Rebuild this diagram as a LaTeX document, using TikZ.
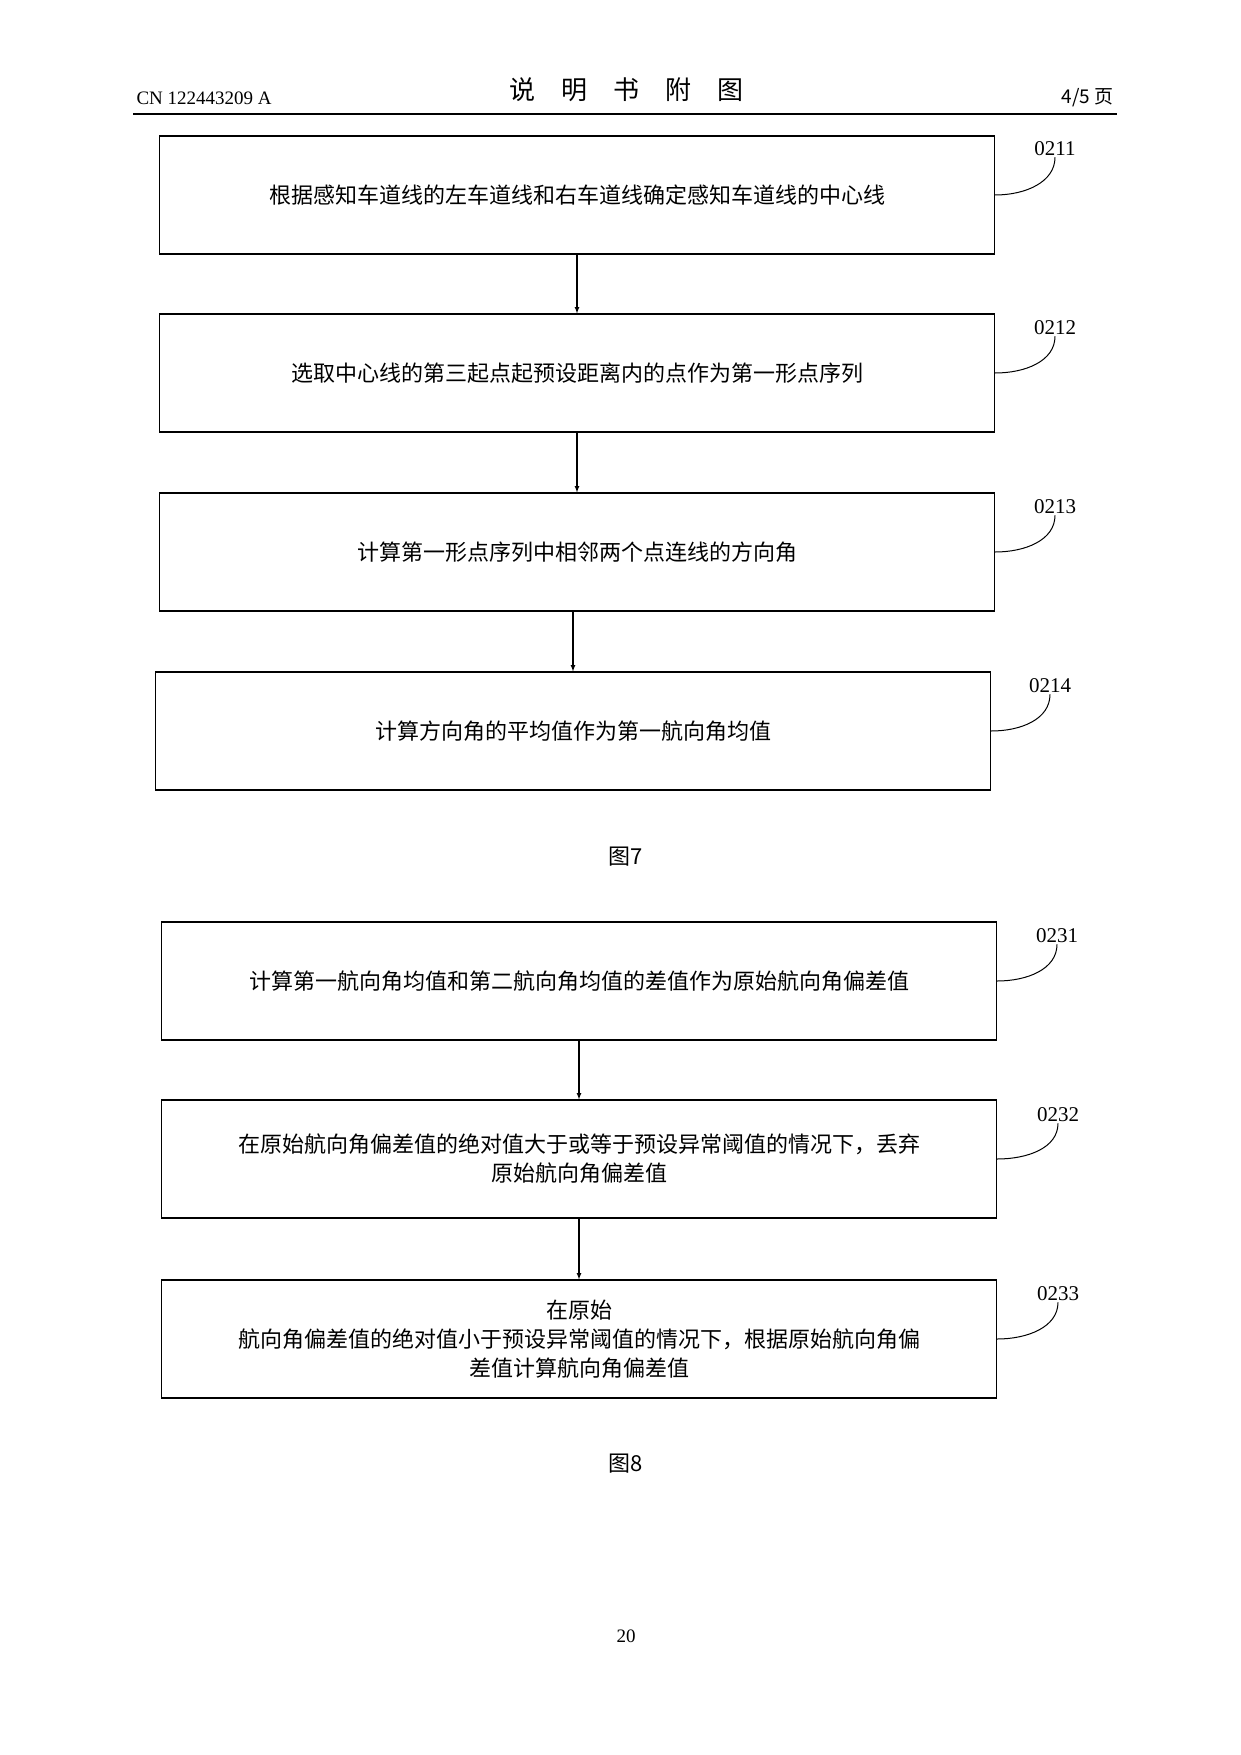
\documentclass[tikz,border=0pt]{standalone}
\usepackage{fontspec}
\setmainfont{Liberation Serif}
\newfontfamily\cjk{Noto Sans CJK SC}
\usetikzlibrary{positioning}
\tikzset{
	procbox/.style={draw, line width=1.2pt, minimum width=835pt, minimum height=118pt, align=center, font=\fontsize{22}{29}\selectfont\cjk},
	tag/.style={font=\fontsize{21}{21}\selectfont, inner sep=1pt},
	flow/.style={->, line width=1.2pt, >=latex},
	lead/.style={line width=1pt}
}
\newcommand{\steptag}[2] % box, tag node
{
	\draw[lead] (#1.east) .. controls ++(30pt,0) and ++(0,-25pt) .. (#2.south);
}
\begin{document}
\begin{tikzpicture}[x=1pt, y=-1pt]
	\useasboundingbox (0,0) rectangle (1241,1755);
	% header
	\node[font=\fontsize{19}{19}\selectfont, anchor=west] (cn) at (133,98) {CN 122443209 A};
	\node[font=\fontsize{26}{26}\selectfont\cjk] (title) at (626,90) {说\quad 明\quad 书\quad 附\quad 图};
	\node[font=\fontsize{19}{19}\selectfont\cjk, anchor=east] (pg) at (1117,98) {4/5 页};
	\draw[line width=1.5pt] (133,114) -- (1117,114);

	% figure 7
	\node[procbox] (s11) at (577,195) {根据感知车道线的左车道线和右车道线确定感知车道线的中心线};
	\node[procbox] (s12) at (577,373) {选取中心线的第三起点起预设距离内的点作为第一形点序列};
	\node[procbox] (s13) at (577,552) {计算第一形点序列中相邻两个点连线的方向角};
	\node[procbox] (s14) at (573,731) {计算方向角的平均值作为第一航向角均值};
	\draw[flow] (s11) -- (s12);
	\draw[flow] (s12) -- (s13);
	\draw[flow] (s14.north |- s13.south) -- (s14.north);
	\node[tag] (t11) at (1055,149) {0211};
	\node[tag] (t12) at (1055,328) {0212};
	\node[tag] (t13) at (1055,507) {0213};
	\node[tag] (t14) at (1050,686) {0214};
	\steptag{s11}{t11}
	\steptag{s12}{t12}
	\steptag{s13}{t13}
	\steptag{s14}{t14}
	\node[font=\fontsize{22}{22}\selectfont\cjk] (f7) at (626,857) {图7};

	% figure 8
	\node[procbox] (s21) at (579,981) {计算第一航向角均值和第二航向角均值的差值作为原始航向角偏差值};
	\node[procbox] (s22) at (579,1159) {在原始航向角偏差值的绝对值大于或等于预设异常阈值的情况下，丢弃\\原始航向角偏差值};
	\node[procbox] (s23) at (579,1339) {在原始\\航向角偏差值的绝对值小于预设异常阈值的情况下，根据原始航向角偏\\差值计算航向角偏差值};
	\draw[flow] (s21) -- (s22);
	\draw[flow] (s22) -- (s23);
	\node[tag] (t21) at (1057,936) {0231};
	\node[tag] (t22) at (1058,1115) {0232};
	\node[tag] (t23) at (1058,1294) {0233};
	\steptag{s21}{t21}
	\steptag{s22}{t22}
	\steptag{s23}{t23}
	\node[font=\fontsize{22}{22}\selectfont\cjk] (f8) at (626,1464) {图8};

	\node[font=\fontsize{19}{19}\selectfont] (num) at (626,1636) {20};
\end{tikzpicture}
\end{document}
